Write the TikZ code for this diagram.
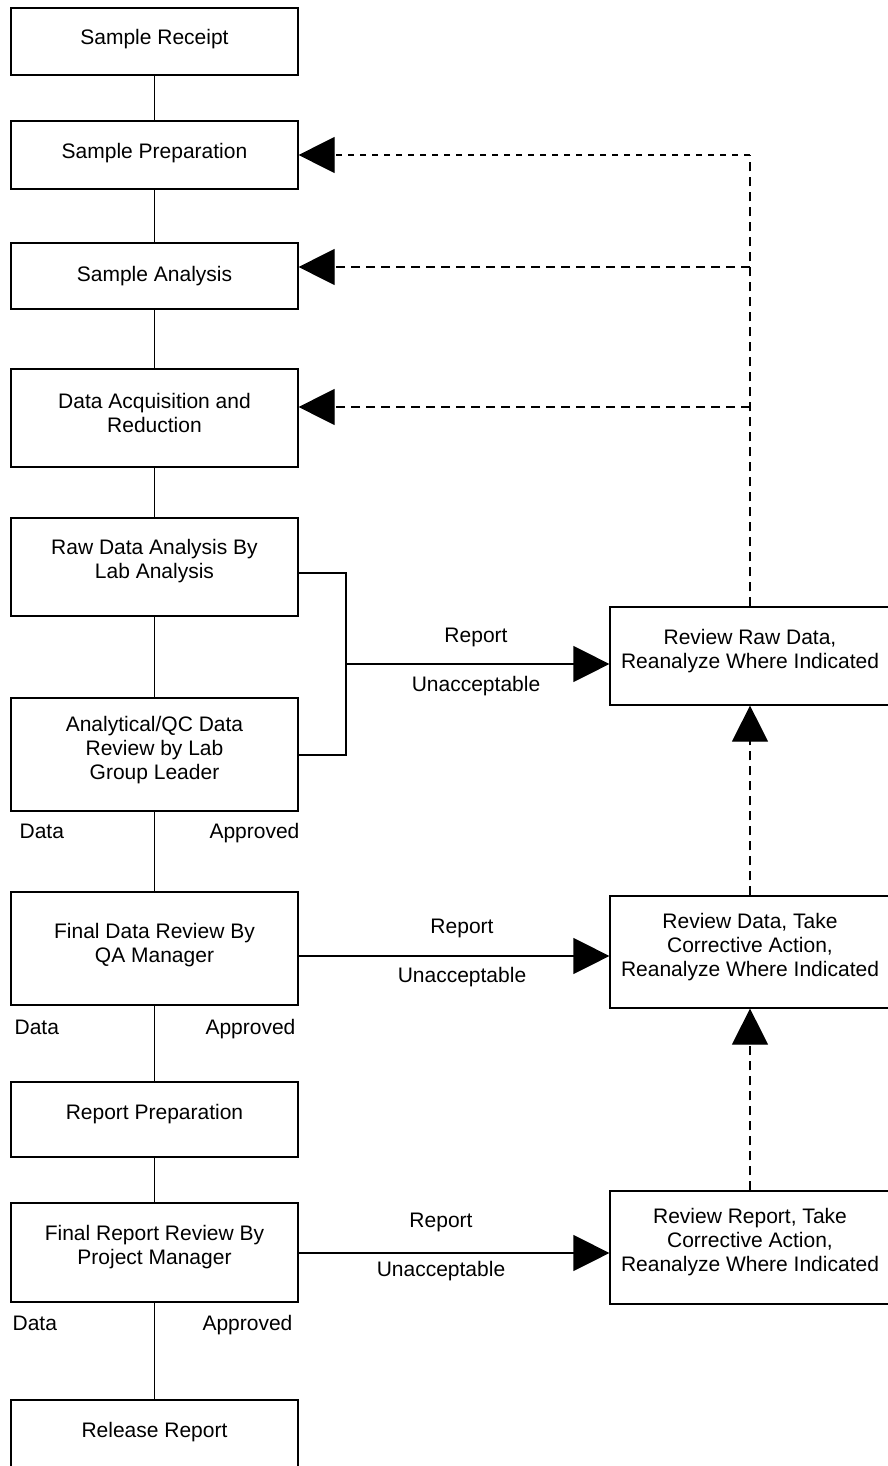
\documentclass[tikz,border=0pt]{standalone}
\usepackage{fontspec}
\setmainfont{Liberation Sans}
\usetikzlibrary{arrows.meta}
\begin{document}
\begin{tikzpicture}[x=1pt,y=-1pt,line width=1.2pt,
  box/.style={draw,inner sep=0pt,minimum width=287pt},
  rbox/.style={draw,inner sep=0pt,minimum width=280pt},
  txt/.style={font=\fontsize{21}{24}\selectfont,align=center,inner sep=0pt},
  tip/.style={-{Triangle[length=36pt,width=36pt]}},
  dline/.style={dash pattern=on 9pt off 6pt},
  dfine/.style={dash pattern=on 6pt off 6pt}]
\clip (0,0) rectangle (888,1466);
% left column
\node[box,minimum height=67pt,label={[txt,yshift=2.5pt]center:Sample Receipt}] (b1) at (154.5,41.5) {};
\node[box,minimum height=68pt,label={[txt,yshift=2pt]center:Sample Preparation}] (b2) at (154.5,155) {};
\node[box,minimum height=66pt,label={[txt,yshift=0pt]center:Sample Analysis}] (b3) at (154.5,276) {};
\node[box,minimum height=98pt,label={[txt,yshift=5.5pt]center:{Data Acquisition and\\Reduction}}] (b4) at (154.5,418) {};
\node[box,minimum height=98pt,label={[txt,yshift=5.5pt]center:{Raw Data Analysis By\\Lab Analysis}}] (b5) at (154.5,567) {};
\node[box,minimum height=113pt,label={[txt,yshift=4.5pt]center:{Analytical/QC Data\\Review by Lab\\Group Leader}}] (b6) at (154.5,754.5) {};
\node[box,minimum height=113pt,label={[txt,yshift=3pt]center:{Final Data Review By\\QA Manager}}] (b7) at (154.5,948.5) {};
\node[box,minimum height=75pt,label={[txt,yshift=5pt]center:Report Preparation}] (b8) at (154.5,1119.5) {};
\node[box,minimum height=99pt,label={[txt,yshift=5.5pt]center:{Final Report Review By\\Project Manager}}] (b9) at (154.5,1252.5) {};
\node[box,minimum height=67pt,label={[txt,yshift=1.5pt]center:Release Report}] (b10) at (154.5,1433.5) {};
% right column
\node[rbox,minimum height=98pt,label={[txt,yshift=5pt]center:{Review Raw Data,\\Reanalyze Where Indicated}}] (r1) at (750,656) {};
\node[rbox,minimum height=112pt,label={[txt,yshift=5pt]center:{Review Data, Take\\Corrective Action,\\Reanalyze Where Indicated}}] (r2) at (750,952) {};
\node[rbox,minimum height=113pt,label={[txt,yshift=5.5pt]center:{Review Report, Take\\Corrective Action,\\Reanalyze Where Indicated}}] (r3) at (750,1247.5) {};
% main flow
\draw (b1.south) -- (b2.north);
\draw (b2.south) -- (b3.north);
\draw (b3.south) -- (b4.north);
\draw (b4.south) -- (b5.north);
\draw (b5.south) -- (b6.north);
\draw (b6.south) -- (b7.north);
\draw (b7.south) -- (b8.north);
\draw (b8.south) -- (b9.north);
\draw (b9.south) -- (b10.north);
% Data / Approved labels
\node[txt,anchor=base west] (d1) at (19,838) {Data};
\node[txt,anchor=base east] (p1) at (300,838) {Approved};
\node[txt,anchor=base west] (d2) at (14,1034) {Data};
\node[txt,anchor=base east] (p2) at (296,1034) {Approved};
\node[txt,anchor=base west] (d3) at (12,1330) {Data};
\node[txt,anchor=base east] (p3) at (293,1330) {Approved};
% bracket to R1
\coordinate (k1) at (346,573);
\coordinate (k2) at (346,755);
\coordinate (k3) at (346,664);
\draw (b5.east |- k1) -- (k1) -- (k2) -- (b6.east |- k2);
\draw[tip] (k3) -- (r1.west |- k3);
\node[txt] (rp1) at (476,637) {Report};
\node[txt] (un1) at (476,686) {Unacceptable};
% R2
\coordinate (a2) at (0,956);
\draw[tip] (b7.east |- a2) -- (r2.west |- a2);
\node[txt] (rp2) at (462,928) {Report};
\node[txt] (un2) at (462,977) {Unacceptable};
% R3
\coordinate (a3) at (0,1253);
\draw[tip] (b9.east |- a3) -- (r3.west |- a3);
\node[txt] (rp3) at (441,1222) {Report};
\node[txt] (un3) at (441,1271) {Unacceptable};
% dashed feedback
\coordinate (j1) at (750,155);
\coordinate (j2) at (750,267);
\coordinate (j3) at (750,407);
\draw[dline] (r1.north) -- (j1);
\draw[dfine,tip] (j1) -- (b2.east |- j1);
\draw[dline,tip] (j2) -- (b3.east |- j2);
\draw[dline,tip] (j3) -- (b4.east |- j3);
\draw[dline,tip] (r2.north) -- (r1.south);
\draw[dline,tip] (r3.north) -- (r2.south);
\end{tikzpicture}
\end{document}
